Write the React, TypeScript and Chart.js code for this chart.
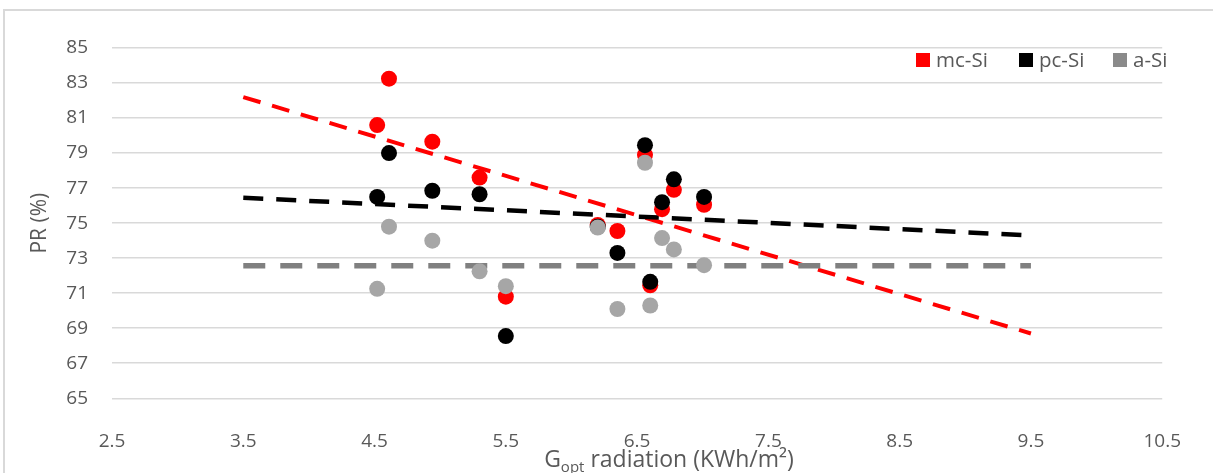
import React, { useEffect, useRef } from 'react';
import { Chart, registerables } from 'chart.js';

Chart.register(...registerables);

// ---- data ----
const gOpt = [4.52, 4.61, 4.94, 5.3, 5.5, 6.2, 6.35, 6.56, 6.6, 6.69, 6.78, 7.01];
const mcSi = [80.6, 83.25, 79.65, 77.6, 70.8, 74.9, 74.55, 78.9, 71.45, 75.8, 76.9, 76.05];
const pcSi = [76.5, 79.0, 76.85, 76.65, 68.55, 74.8, 73.3, 79.45, 71.65, 76.2, 77.5, 76.5];
const aSi = [71.25, 74.8, 74.0, 72.25, 71.4, 74.75, 70.1, 78.45, 70.3, 74.15, 73.5, 72.6];

const trendX = [3.5, 9.5];
const mcSiTrend = [82.2, 68.7];
const pcSiTrend = [76.45, 74.3];
const aSiTrend = [72.57, 72.57];

const xTicks = [2.5, 3.5, 4.5, 5.5, 6.5, 7.5, 8.5, 9.5, 10.5];
const yTicks = [65, 67, 69, 71, 73, 75, 77, 79, 81, 83, 85];

const seriesLabels = ['mc-Si', 'pc-Si', 'a-Si'];
const xTitleMain = 'G';
const xTitleSub = 'opt';
const xTitleRest = ' radiation (KWh/m\u00B2)';
const yTitle = 'PR (%)';

const FONT = '"Open Sans", "DejaVu Sans", sans-serif';
const TEXT = '#595959';

const pts = (xs: number[], ys: number[]) => xs.map((x, i) => ({ x, y: ys[i] }));

export default function App() {
  const ref = useRef<HTMLCanvasElement>(null);

  useEffect(() => {
    if (!ref.current) return;

    const legendColors = ['#ff0000', '#000000', '#8a8a8a'];
    const legendX = [916, 1019, 1113];

    const legendPlugin = {
      id: 'customLegend',
      afterDraw(chart: any) {
        const c = chart.ctx;
        c.save();
        c.font = `20.5px ${FONT}`;
        c.textBaseline = 'middle';
        c.textAlign = 'left';
        const cy = 60;
        const box = 14;
        seriesLabels.forEach((label, i) => {
          c.fillStyle = legendColors[i];
          c.fillRect(legendX[i], cy - box / 2, box, box);
          c.fillStyle = TEXT;
          c.fillText(label, legendX[i] + box + 6, cy + 1);
        });
        c.restore();
      },
    };

    const xTitlePlugin = {
      id: 'xTitle',
      afterDraw(chart: any) {
        const c = chart.ctx;
        c.save();
        c.fillStyle = TEXT;
        c.textBaseline = 'alphabetic';
        c.textAlign = 'left';
        const big = `23px ${FONT}`;
        const small = `15px ${FONT}`;
        c.font = big;
        const w1 = c.measureText(xTitleMain).width;
        const w3 = c.measureText(xTitleRest).width;
        c.font = small;
        const w2 = c.measureText(xTitleSub).width;
        const total = w1 + w2 + w3;
        let x = 669 - total / 2;
        const base = 467;
        c.font = big;
        c.fillText(xTitleMain, x, base);
        x += w1;
        c.font = small;
        c.fillText(xTitleSub, x, base + 5);
        x += w2;
        c.font = big;
        c.fillText(xTitleRest, x, base);
        c.restore();
      },
    };

    const chart = new Chart(ref.current, {
      type: 'scatter',
      data: {
        datasets: [
          {
            label: seriesLabels[0],
            data: pts(gOpt, mcSi),
            backgroundColor: '#ff0000',
            borderWidth: 0,
            pointRadius: 8,
            order: 3,
          },
          {
            label: seriesLabels[1],
            data: pts(gOpt, pcSi),
            backgroundColor: '#000000',
            borderWidth: 0,
            pointRadius: 8,
            order: 2,
          },
          {
            label: seriesLabels[2],
            data: pts(gOpt, aSi),
            backgroundColor: '#a6a6a6',
            borderWidth: 0,
            pointRadius: 8,
            order: 1,
          },
          {
            label: 'mc-Si trend',
            data: pts(trendX, mcSiTrend),
            showLine: true,
            borderColor: '#ff0000',
            borderWidth: 4,
            borderDash: [18, 12],
            pointRadius: 0,
            order: 6,
          },
          {
            label: 'pc-Si trend',
            data: pts(trendX, pcSiTrend),
            showLine: true,
            borderColor: '#000000',
            borderWidth: 4.5,
            borderDash: [20, 13],
            pointRadius: 0,
            order: 5,
          },
          {
            label: 'a-Si trend',
            data: pts(trendX, aSiTrend),
            showLine: true,
            borderColor: '#808080',
            borderWidth: 5.5,
            borderDash: [22, 15],
            pointRadius: 0,
            order: 4,
          },
        ],
      },
      options: {
        responsive: false,
        animation: false,
        events: [],
        layout: { padding: { top: 48, right: 40, bottom: 0, left: 0 } },
        plugins: {
          legend: { display: false },
          tooltip: { enabled: false },
        },
        scales: {
          x: {
            type: 'linear',
            min: 2.5,
            max: 10.5,
            afterBuildTicks: (scale: any) => {
              scale.ticks = xTicks.map((value) => ({ value }));
            },
            afterFit: (scale: any) => {
              scale.height = 74.7;
            },
            grid: { display: false, drawTicks: false },
            border: { display: false },
            ticks: {
              padding: 32,
              color: TEXT,
              font: { family: FONT, size: 19 },
              maxRotation: 0,
              autoSkip: false,
              callback: (v: any) => Number(v).toFixed(1),
            },
            title: { display: false },
          },
          y: {
            type: 'linear',
            min: 65,
            max: 85,
            afterBuildTicks: (scale: any) => {
              scale.ticks = yTicks.map((value) => ({ value }));
            },
            afterFit: (scale: any) => {
              scale.width = 112;
            },
            grid: { color: '#d9d9d9', lineWidth: 1.6, drawTicks: false },
            border: { display: false },
            ticks: {
              padding: 24,
              color: TEXT,
              font: { family: FONT, size: 19 },
              autoSkip: false,
              callback: (v: any) => String(v),
            },
            title: {
              display: true,
              text: yTitle,
              color: TEXT,
              font: { family: FONT, size: 21 },
              padding: { top: 27, bottom: 0 },
            },
          },
        },
      },
      plugins: [legendPlugin, xTitlePlugin],
    });

    return () => chart.destroy();
  }, []);

  return (
    <div
      style={{
        position: 'absolute',
        left: 0,
        top: 0,
        width: 1213,
        height: 473,
        overflow: 'hidden',
        background: '#ffffff',
      }}
    >
      <div
        style={{
          position: 'absolute',
          left: 3,
          top: 9,
          width: 1400,
          height: 700,
          borderLeft: '2px solid #d9d9d9',
          borderTop: '2px solid #d9d9d9',
          boxSizing: 'border-box',
        }}
      />
      <canvas
        ref={ref}
        width={1213}
        height={473}
        style={{ position: 'absolute', left: 0, top: 0, width: 1213, height: 473 }}
      />
    </div>
  );
}
